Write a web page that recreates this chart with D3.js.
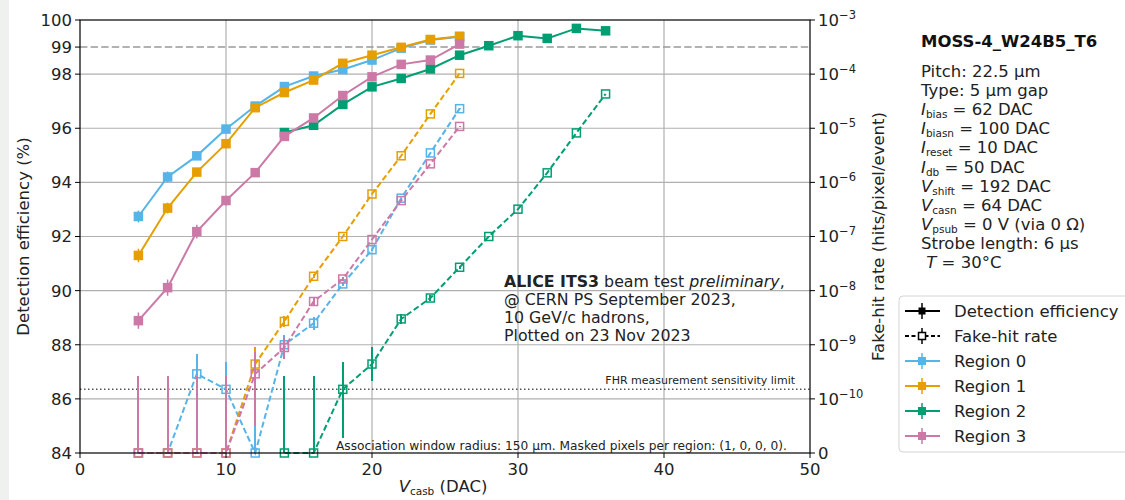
<!DOCTYPE html>
<html>
<head>
<meta charset="utf-8">
<script src="https://cdn.jsdelivr.net/npm/d3@7"></script>
<style>
  body { margin: 0; background: #fff; }
  svg { display: block; font-family: "DejaVu Sans", sans-serif; }
</style>
</head>
<body>
<svg id="chart" width="1125" height="500"></svg>
<script>
// ---- data ---------------------------------------------------------------
const regionNames  = ["Region 0", "Region 1", "Region 2", "Region 3"];
const regionColors = ["#56B4E9", "#E69F00", "#009E73", "#CC79A7"];

// V_casb settings (DAC)
const vcasbLow  = [4, 6, 8, 10, 12, 14, 16, 18, 20, 22, 24, 26];     // regions 0, 1, 3
const vcasbHigh = [14, 16, 18, 20, 22, 24, 26, 28, 30, 32, 34, 36];  // region 2

// detection efficiency (%) and its uncertainty
const effR0 = [92.74, 94.20, 94.98, 95.97, 96.82, 97.54, 97.93, 98.17, 98.52, 98.96, 99.26, 99.38];
const effR1 = [91.30, 93.05, 94.38, 95.43, 96.76, 97.32, 97.78, 98.40, 98.70, 98.99, 99.28, 99.40];
const effR2 = [95.84, 96.11, 96.88, 97.53, 97.84, 98.19, 98.70, 99.05, 99.42, 99.32, 99.69, 99.60];
const effR3 = [88.89, 90.11, 92.18, 93.33, 94.36, 95.70, 96.38, 97.21, 97.90, 98.36, 98.52, 99.11];
const effErrR0 = [0.22, 0.20, 0.15, 0.12, 0.10, 0.08, 0.07, 0.06, 0.05, 0.05, 0.04, 0.04];
const effErrR1 = [0.25, 0.20, 0.15, 0.12, 0.10, 0.08, 0.07, 0.06, 0.05, 0.05, 0.04, 0.04];
const effErrR2 = [0.12, 0.10, 0.08, 0.07, 0.06, 0.05, 0.05, 0.04, 0.04, 0.04, 0.03, 0.03];
const effErrR3 = [0.30, 0.30, 0.25, 0.18, 0.15, 0.12, 0.10, 0.08, 0.06, 0.05, 0.05, 0.04];

// fake-hit rate (hits/pixel/event) with lower / upper bounds
const fhrR0   = [0, 0, 2.9e-10, 1.5e-10, 0, 1.0e-9, 2.5e-9, 1.33e-8, 5.7e-8, 5.1e-7, 3.5e-6, 2.3e-5];
const fhrLoR0 = [0, 0, 0.5e-10, 0.2e-10, 0, 6.0e-10, 1.9e-9, 1.2e-8, 5.4e-8, 5.0e-7, 3.45e-6, 2.28e-5];
const fhrHiR0 = [2.66e-10, 2.66e-10, 6.7e-10, 4.8e-10, 2.66e-10, 1.5e-9, 3.2e-9, 1.45e-8, 6.0e-8, 5.2e-7, 3.55e-6, 2.32e-5];

const fhrR1   = [0, 0, 0, 0, 4.4e-10, 2.7e-9, 1.84e-8, 1.0e-7, 6.1e-7, 3.1e-6, 1.84e-5, 1.03e-4];
const fhrLoR1 = [0, 0, 0, 0, 2.1e-10, 2.1e-9, 1.7e-8, 9.7e-8, 6.0e-7, 3.08e-6, 1.83e-5, 1.028e-4];
const fhrHiR1 = [2.66e-10, 2.66e-10, 2.66e-10, 2.66e-10, 8.9e-10, 3.4e-9, 2.0e-8, 1.03e-7, 6.2e-7, 3.12e-6, 1.85e-5, 1.032e-4];

const fhrR2   = [0, 0, 1.5e-10, 4.4e-10, 3.0e-9, 7.3e-9, 2.7e-8, 1.0e-7, 3.2e-7, 1.5e-6, 8.2e-6, 4.3e-5];
const fhrLoR2 = [0, 0, 0.27e-10, 2.15e-10, 2.4e-9, 6.4e-9, 2.5e-8, 9.7e-8, 3.15e-7, 1.49e-6, 8.15e-6, 4.28e-5];
const fhrHiR2 = [2.66e-10, 2.66e-10, 4.9e-10, 8.9e-10, 3.7e-9, 8.3e-9, 2.9e-8, 1.03e-7, 3.25e-7, 1.51e-6, 8.25e-6, 4.32e-5];

const fhrR3   = [0, 0, 0, 0, 2.9e-10, 8.9e-10, 6.3e-9, 1.64e-8, 8.8e-8, 4.6e-7, 2.2e-6, 1.08e-5];
const fhrLoR3 = [0, 0, 0, 0, 0.5e-10, 5.5e-10, 5.4e-9, 1.5e-8, 8.5e-8, 4.5e-7, 2.18e-6, 1.075e-5];
const fhrHiR3 = [2.66e-10, 2.66e-10, 2.66e-10, 2.66e-10, 7.5e-10, 1.4e-9, 7.3e-9, 1.8e-8, 9.1e-8, 4.7e-7, 2.22e-6, 1.085e-5];

const fhrSensitivityLimit = 1.5e-10;
const efficiencyTarget = 99;

// axis ticks
const xTicks = [0, 10, 20, 30, 40, 50];
const effTicks = [84, 86, 88, 90, 92, 94, 96, 98, 99, 100];
const effGrid = [86, 88, 90, 92, 94, 96, 98];
const fhrTicks = [0, 1e-10, 1e-9, 1e-8, 1e-7, 1e-6, 1e-5, 1e-4, 1e-3];

// ---- series assembly ----------------------------------------------------
const series = [
  { x: vcasbLow,  eff: effR0, effErr: effErrR0, fhr: fhrR0, lo: fhrLoR0, hi: fhrHiR0 },
  { x: vcasbLow,  eff: effR1, effErr: effErrR1, fhr: fhrR1, lo: fhrLoR1, hi: fhrHiR1 },
  { x: vcasbHigh, eff: effR2, effErr: effErrR2, fhr: fhrR2, lo: fhrLoR2, hi: fhrHiR2 },
  { x: vcasbLow,  eff: effR3, effErr: effErrR3, fhr: fhrR3, lo: fhrLoR3, hi: fhrHiR3 }
].map((s, i) => ({
  name: regionNames[i],
  color: regionColors[i],
  effPts: s.x.map((v, k) => ({ x: v, y: s.eff[k], e: s.effErr[k] })),
  fhrPts: s.x.map((v, k) => ({ x: v, y: s.fhr[k], lo: s.lo[k], hi: s.hi[k] }))
}));

// ---- layout -------------------------------------------------------------
const W = 1125, H = 500;
const plot = { left: 80, right: 810, top: 20, bottom: 453 };
const svg = d3.select("#chart");
const FS = 16.5;
const SUB = 10.5;

const x = d3.scaleLinear().domain([0, 50]).range([plot.left, plot.right]);
const y = d3.scaleLinear().domain([84, 100]).range([plot.bottom, plot.top]);
// right axis: symmetric-log style, linear below 1e-10, logarithmic above
const yFhrLin = d3.scaleLinear().domain([0, 1e-10]).range([y(84), y(86)]);
const yFhrLog = d3.scaleLog().domain([1e-10, 1e-3]).range([y(86), y(100)]);
const yF = v => (v < 1e-10 ? yFhrLin(Math.max(v, 0)) : yFhrLog(v));

// left margin band
svg.append("rect").attr("x", 0).attr("y", 0).attr("width", 9).attr("height", H).attr("fill", "#eef1ee");

// ---- grid ---------------------------------------------------------------
const grid = svg.append("g").attr("stroke", "#b0b0b0").attr("stroke-width", 1.2);
xTicks.filter(t => t > 0 && t < 50).forEach(t =>
  grid.append("line").attr("x1", x(t)).attr("x2", x(t)).attr("y1", plot.top).attr("y2", plot.bottom));
effGrid.forEach(t =>
  grid.append("line").attr("x1", plot.left).attr("x2", plot.right).attr("y1", y(t)).attr("y2", y(t)));

// 99 % reference
svg.append("line")
  .attr("x1", plot.left).attr("x2", plot.right)
  .attr("y1", y(efficiencyTarget)).attr("y2", y(efficiencyTarget))
  .attr("stroke", "#999").attr("stroke-width", 1.5).attr("stroke-dasharray", "7.4,3.2");

// ---- efficiency (solid) -------------------------------------------------
const lineEff = d3.line().x(d => x(d.x)).y(d => y(d.y));
series.forEach(s => {
  const g = svg.append("g");
  g.selectAll("line.err").data(s.effPts).join("line")
    .attr("x1", d => x(d.x)).attr("x2", d => x(d.x))
    .attr("y1", d => y(d.y - d.e)).attr("y2", d => y(d.y + d.e))
    .attr("stroke", s.color).attr("stroke-width", 1.5);
  g.append("path").attr("d", lineEff(s.effPts))
    .attr("fill", "none").attr("stroke", s.color).attr("stroke-width", 2);
  const m = 9.5;
  g.selectAll("rect").data(s.effPts).join("rect")
    .attr("x", d => x(d.x) - m / 2).attr("y", d => y(d.y) - m / 2)
    .attr("width", m).attr("height", m).attr("fill", s.color);
});

// ---- fake-hit rate (dashed) --------------------------------------------
// sensitivity limit
svg.append("line")
  .attr("x1", plot.left).attr("x2", plot.right)
  .attr("y1", yF(fhrSensitivityLimit)).attr("y2", yF(fhrSensitivityLimit))
  .attr("stroke", "#555").attr("stroke-width", 1.5).attr("stroke-dasharray", "1.5,2.5");
svg.append("text").attr("x", 795).attr("y", yF(fhrSensitivityLimit) - 5)
  .attr("text-anchor", "end").attr("font-size", 11).attr("fill", "#222")
  .text("FHR measurement sensitivity limit");

const lineFhr = d3.line().x(d => x(d.x)).y(d => yF(d.y));
series.forEach(s => {
  const g = svg.append("g");
  g.selectAll("line.err").data(s.fhrPts).join("line")
    .attr("x1", d => Math.round(x(d.x))).attr("x2", d => Math.round(x(d.x)))
    .attr("y1", d => yF(d.lo)).attr("y2", d => yF(d.hi))
    .attr("stroke", s.color).attr("stroke-width", 2)
    .attr("shape-rendering", "crispEdges");
  g.append("path").attr("d", lineFhr(s.fhrPts))
    .attr("fill", "none").attr("stroke", s.color).attr("stroke-width", 2)
    .attr("stroke-dasharray", "6,3");
  const m = 8;
  g.selectAll("rect").data(s.fhrPts).join("rect")
    .attr("x", d => x(d.x) - m / 2).attr("y", d => yF(d.y) - m / 2)
    .attr("width", m).attr("height", m)
    .attr("fill", "none").attr("stroke", s.color).attr("stroke-width", 1.5);
});

// ---- axes ---------------------------------------------------------------
const ax = svg.append("g").attr("stroke", "#000").attr("stroke-width", 1.2).attr("fill", "none");
ax.append("rect").attr("x", plot.left).attr("y", plot.top)
  .attr("width", plot.right - plot.left).attr("height", plot.bottom - plot.top);

const tickG = svg.append("g").attr("stroke", "#000").attr("stroke-width", 1);
const labG = svg.append("g").attr("font-size", FS).attr("fill", "#222");

xTicks.forEach(t => {
  tickG.append("line").attr("x1", x(t)).attr("x2", x(t)).attr("y1", plot.bottom).attr("y2", plot.bottom + 5);
  labG.append("text").attr("x", x(t)).attr("y", plot.bottom + 22).attr("text-anchor", "middle").text(t);
});
effTicks.forEach(t => {
  tickG.append("line").attr("x1", plot.left - 5).attr("x2", plot.left).attr("y1", y(t)).attr("y2", y(t));
  labG.append("text").attr("x", plot.left - 8).attr("y", y(t)).attr("dy", "0.36em")
    .attr("text-anchor", "end").text(t);
});
fhrTicks.forEach(t => {
  tickG.append("line").attr("x1", plot.right).attr("x2", plot.right + 5).attr("y1", yF(t)).attr("y2", yF(t));
  const tx = labG.append("text").attr("x", plot.right + 8).attr("y", yF(t)).attr("dy", "0.36em");
  if (t === 0) {
    tx.text("0");
  } else {
    const e = Math.round(Math.log10(t));
    tx.append("tspan").text("10");
    tx.append("tspan").attr("dy", -7).attr("font-size", 11.5).text("\u2212" + Math.abs(e));
  }
});

// axis titles
svg.append("text").attr("transform", `translate(29,${(plot.top + plot.bottom) / 2}) rotate(-90)`)
  .attr("text-anchor", "middle").attr("font-size", FS).attr("fill", "#222")
  .text("Detection efficiency (%)");
svg.append("text").attr("transform", `translate(884,${(plot.top + plot.bottom) / 2}) rotate(-90)`)
  .attr("text-anchor", "middle").attr("font-size", FS).attr("fill", "#222")
  .text("Fake-hit rate (hits/pixel/event)");
const xl = svg.append("text").attr("x", (plot.left + plot.right) / 2 - 2).attr("y", 492)
  .attr("text-anchor", "middle").attr("font-size", FS).attr("fill", "#222");
xl.append("tspan").attr("font-style", "italic").text("V");
xl.append("tspan").attr("dy", 3).attr("font-size", SUB).text("casb");
xl.append("tspan").attr("dy", -3).text(" (DAC)");

// ---- annotations --------------------------------------------------------
const ann = svg.append("g").attr("font-size", 15.8).attr("fill", "#222");
const a1 = ann.append("text").attr("x", 504).attr("y", 287);
a1.append("tspan").attr("font-weight", "bold").text("ALICE ITS3");
a1.append("tspan").text(" beam test ");
a1.append("tspan").attr("font-style", "italic").text("preliminary");
a1.append("tspan").text(",");
["@ CERN PS September 2023,", "10 GeV/c hadrons,", "Plotted on 23 Nov 2023"].forEach((t, i) =>
  ann.append("text").attr("x", 504).attr("y", 305 + i * 18).text(t));

svg.append("text").attr("x", 787).attr("y", 450).attr("text-anchor", "end")
  .attr("font-size", 12.2).attr("fill", "#222")
  .text("Association window radius: 150 \u00b5m. Masked pixels per region: (1, 0, 0, 0).");

// ---- chip / settings box ------------------------------------------------
svg.append("text").attr("x", 921).attr("y", 47).attr("font-size", FS)
  .attr("font-weight", "bold").attr("fill", "#111").text("MOSS-4_W24B5_T6");

const infoLines = [
  [["Pitch: 22.5 \u00b5m"]],
  [["Type: 5 \u00b5m gap"]],
  [["I", "i"], ["bias", "sub"], [" = 62 DAC"]],
  [["I", "i"], ["biasn", "sub"], [" = 100 DAC"]],
  [["I", "i"], ["reset", "sub"], [" = 10 DAC"]],
  [["I", "i"], ["db", "sub"], [" = 50 DAC"]],
  [["V", "i"], ["shift", "sub"], [" = 192 DAC"]],
  [["V", "i"], ["casn", "sub"], [" = 64 DAC"]],
  [["V", "i"], ["psub", "sub"], [" = 0 V (via 0 \u03a9)"]],
  [["Strobe length: 6 \u00b5s"]],
  [["\u00a0"], ["T", "i"], [" = 30\u00b0C"]]
];
infoLines.forEach((segs, i) => {
  const t = svg.append("text").attr("x", 921).attr("y", 77 + i * 19.1)
    .attr("font-size", FS).attr("fill", "#222").attr("xml:space", "preserve");
  let shifted = false;
  segs.forEach(([txt, kind]) => {
    const sp = t.append("tspan").text(txt);
    if (kind === "i") sp.attr("font-style", "italic");
    if (kind === "sub") { sp.attr("dy", 3).attr("font-size", SUB); shifted = true; }
    else if (shifted) { sp.attr("dy", -3); shifted = false; }
  });
});

// ---- legend -------------------------------------------------------------
const lg = svg.append("g");
lg.append("rect").attr("x", 899).attr("y", 296).attr("width", 240).attr("height", 156)
  .attr("rx", 4).attr("fill", "#fff").attr("fill-opacity", 0.85)
  .attr("stroke", "#d4d4d4").attr("stroke-width", 1);
const legendItems = [
  { label: "Detection efficiency", color: "#000", dashed: false, open: false, m: 7 },
  { label: "Fake-hit rate", color: "#000", dashed: true, open: true, m: 7 },
  ...regionNames.map((n, i) => ({ label: n, color: regionColors[i], dashed: false, open: false, m: 8 }))
];
legendItems.forEach((it, i) => {
  const cy = 311 + i * 25;
  const g = lg.append("g");
  g.append("line").attr("x1", 922).attr("x2", 922).attr("y1", cy - 8).attr("y2", cy + 8)
    .attr("stroke", it.color).attr("stroke-width", 1.5);
  g.append("line").attr("x1", 905).attr("x2", 940).attr("y1", cy).attr("y2", cy)
    .attr("stroke", it.color).attr("stroke-width", 2)
    .attr("stroke-dasharray", it.dashed ? "4,2.5" : null);
  g.append("rect").attr("x", 922 - it.m / 2).attr("y", cy - it.m / 2)
    .attr("width", it.m).attr("height", it.m)
    .attr("fill", it.open ? "#fff" : it.color)
    .attr("stroke", it.open ? it.color : "none").attr("stroke-width", 1.5);
  g.append("text").attr("x", 954).attr("y", cy).attr("dy", "0.36em")
    .attr("font-size", FS).attr("fill", "#222").text(it.label);
});
</script>
</body>
</html>
